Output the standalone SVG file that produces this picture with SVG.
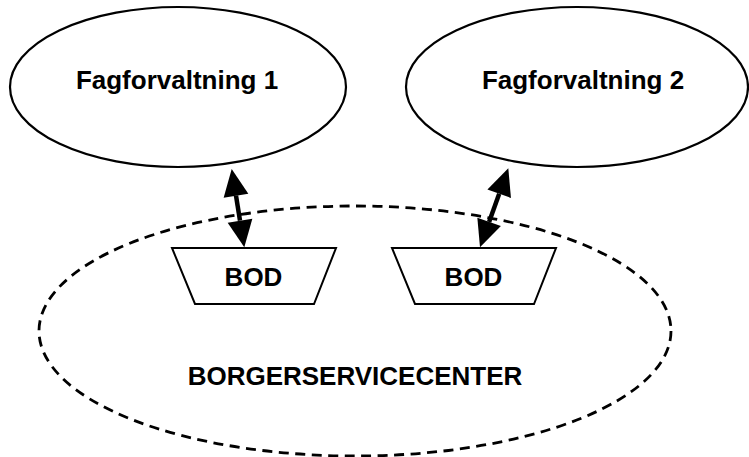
<svg xmlns="http://www.w3.org/2000/svg" width="749" height="457" viewBox="0 0 749 457">
  <style>
    .bg { fill: #ffffff; }
    .oval { fill: #ffffff; stroke: #000000; stroke-width: 2.2; }
    .zone { fill: none; stroke: #000000; stroke-width: 2.8; stroke-dasharray: 10 6.5; }
    .box { fill: #ffffff; stroke: #000000; stroke-width: 2; stroke-linejoin: miter; }
    .label { font-family: "Liberation Sans", Arial, sans-serif; font-weight: bold; font-size: 26px; fill: #000000; text-anchor: middle; }
    .shaft { stroke: #000000; stroke-width: 4.5; fill: none; }
    .head { fill: #000000; stroke: none; }
  </style>
  <rect class="bg" x="0" y="0" width="749" height="457"/>

  <!-- service centre boundary -->
  <g id="borgerservicecenter">
    <ellipse class="zone" cx="355" cy="331" rx="316" ry="125"/>
    <text class="label" x="355" y="385">BORGERSERVICECENTER</text>
  </g>

  <g id="fagforvaltning1">
    <ellipse class="oval" cx="178" cy="87" rx="168" ry="80"/>
    <text class="label" x="177" y="89">Fagforvaltning 1</text>
  </g>

  <g id="fagforvaltning2">
    <ellipse class="oval" cx="577" cy="87" rx="171" ry="80"/>
    <text class="label" x="583" y="89">Fagforvaltning 2</text>
  </g>

  <g id="bod1">
    <polygon class="box" points="172,248 336,248 314,304 195,304"/>
    <text class="label" x="253.5" y="286">BOD</text>
  </g>

  <g id="bod2">
    <polygon class="box" points="392,248 556,248 534,304 415,304"/>
    <text class="label" x="473.5" y="286">BOD</text>
  </g>

  <!-- two-way connectors -->
  <g id="connectors">
    <g id="link1">
      <line class="shaft" x1="236" y1="195.7" x2="240" y2="220.6"/>
      <polygon class="head" points="231.7,169 223.65,197.65 248.33,193.67"/>
      <polygon class="head" points="244.3,247.3 227.67,222.63 252.35,218.65"/>
    </g>
    <g id="link2">
      <line class="shaft" x1="499.2" y1="193.7" x2="489.1" y2="221.9"/>
      <polygon class="head" points="508.3,168.3 487.42,189.5 510.96,197.94"/>
      <polygon class="head" points="480,247.3 477.34,217.66 500.88,226.1"/>
    </g>
  </g>
</svg>
